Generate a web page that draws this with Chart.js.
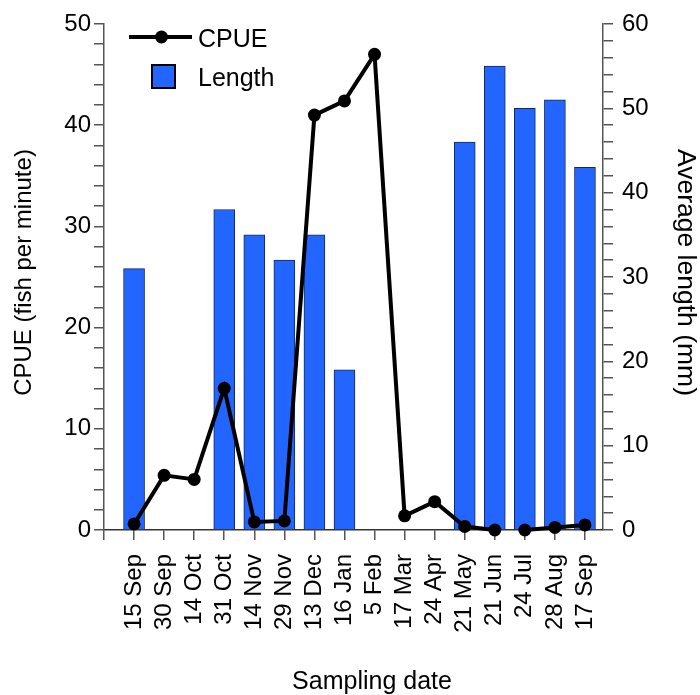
<!DOCTYPE html>
<html>
<head>
<meta charset="utf-8">
<script src="https://cdn.jsdelivr.net/npm/chart.js@4/dist/chart.umd.min.js"></script>
<style>
  html, body { margin: 0; padding: 0; background: #fff; }
  #wrap { width: 700px; height: 695px; }
</style>
</head>
<body>
<div id="wrap"><canvas id="c" width="700" height="695"></canvas></div>
<script>
// ---- Data ----
const dates = ['15 Sep', '30 Sep', '14 Oct', '31 Oct', '14 Nov', '29 Nov', '13 Dec', '16 Jan',
               '5 Feb', '17 Mar', '24 Apr', '21 May', '21 Jun', '24 Jul', '28 Aug', '17 Sep'];
const cpue = [0.6, 5.4, 5.0, 14.0, 0.8, 0.9, 41.0, 42.4, 47.0, 1.4, 2.8, 0.35, 0.0, 0.0, 0.25, 0.5];
const lengthMM = [31, null, null, 38, 35, 32, 35, 19, null, null, null, 46, 55, 50, 51, 43];
const cpueTicks = [0, 10, 20, 30, 40, 50];
const lengthTicks = [0, 10, 20, 30, 40, 50, 60];
const cpueGapAfter = '21 Jun'; // line is not drawn between 21 Jun and 24 Jul
const xTitle = 'Sampling date';
const yTitle = 'CPUE (fish per minute)';
const y1Title = 'Average length (mm)';

const FONT = "'Liberation Sans', Arial, Helvetica, sans-serif";
Chart.defaults.font.family = FONT;
Chart.defaults.color = '#000';

const lineData = dates.map((d, i) => ({ x: i, y: cpue[i] }));
const barData = dates.map((d, i) => ({ x: i, y: lengthMM[i] })).filter(p => p.y !== null);
const gapIndex = dates.indexOf(cpueGapAfter);

const annotPlugin = {
  id: 'legendAndTitles',
  afterDraw(chart) {
    const ctx = chart.ctx;
    const line = chart.data.datasets[0];
    const bar = chart.data.datasets[1];
    ctx.save();
    // legend: line sample
    ctx.strokeStyle = line.borderColor;
    ctx.lineWidth = line.borderWidth;
    ctx.beginPath();
    ctx.moveTo(129, 37);
    ctx.lineTo(192, 37);
    ctx.stroke();
    ctx.fillStyle = line.pointBackgroundColor;
    ctx.beginPath();
    ctx.arc(161.5, 37, line.pointRadius, 0, Math.PI * 2);
    ctx.fill();
    // legend: bar sample
    ctx.fillStyle = bar.backgroundColor;
    ctx.fillRect(152, 65, 23, 23);
    ctx.strokeStyle = '#000';
    ctx.lineWidth = 2;
    ctx.strokeRect(152, 65, 23, 23);
    ctx.fillStyle = '#000';
    ctx.font = '25px ' + FONT;
    ctx.textAlign = 'left';
    ctx.textBaseline = 'alphabetic';
    ctx.fillText(line.label, 198, 46.5);
    ctx.fillText(bar.label, 198, 86);

    // axis titles
    ctx.textAlign = 'center';
    ctx.textBaseline = 'middle';
    ctx.font = '25px ' + FONT;
    ctx.fillText(xTitle, 372, 682);

    ctx.save();
    ctx.translate(24, 272.5);
    ctx.rotate(-Math.PI / 2);
    ctx.font = '24px ' + FONT;
    ctx.fillText(yTitle, 0, 0);
    ctx.restore();

    ctx.save();
    ctx.translate(685.5, 272.5);
    ctx.rotate(Math.PI / 2);
    ctx.font = '26.5px ' + FONT;
    ctx.fillText(y1Title, 0, 0);
    ctx.restore();

    ctx.restore();
  }
};

new Chart(document.getElementById('c'), {
  type: 'bar',
  data: {
    datasets: [
      {
        type: 'line',
        label: 'CPUE',
        data: lineData,
        yAxisID: 'y',
        xAxisID: 'x',
        order: 0,
        borderColor: '#000',
        borderWidth: 4,
        pointRadius: 6.5,
        pointBackgroundColor: '#000',
        pointBorderWidth: 0,
        tension: 0,
        clip: false,
        segment: {
          borderColor: c => (c.p0DataIndex === gapIndex ? 'rgba(0,0,0,0)' : undefined)
        }
      },
      {
        type: 'bar',
        label: 'Length',
        data: barData,
        yAxisID: 'y1',
        xAxisID: 'x',
        order: 1,
        backgroundColor: '#2266FF',
        borderColor: '#14285e',
        borderWidth: 1,
        barThickness: 21
      }
    ]
  },
  options: {
    responsive: false,
    animation: false,
    layout: { padding: { top: 24, left: 0, right: 0, bottom: 0 } },
    plugins: {
      legend: { display: false },
      tooltip: { enabled: false }
    },
    scales: {
      x: {
        type: 'linear',
        position: 'bottom',
        offset: false,
        min: -1,
        max: 15.6,
        afterBuildTicks: s => { s.ticks = [-1].concat(dates.map((d, i) => i)).map(v => ({ value: v })); },
        afterFit: s => { s.height = 165; },
        grid: { offset: false, drawOnChartArea: false, drawTicks: true, tickLength: 10, color: '#555', lineWidth: 1.5 },
        border: { color: '#333', width: 1.5 },
        ticks: {
          autoSkip: false,
          minRotation: 90,
          maxRotation: 90,
          padding: 14,
          font: { size: 24 },
          callback: v => (v >= 0 && v < dates.length ? dates[v] : '')
        },
        title: { display: false }
      },
      y: {
        position: 'left',
        min: 0,
        max: 50,
        afterFit: s => { s.width = 104; },
        grid: { drawOnChartArea: false, drawTicks: true, tickLength: 10, color: '#555', lineWidth: 1.5 },
        border: { color: '#555', width: 1.5 },
        ticks: {
          stepSize: 2,
          autoSkip: false,
          padding: 3,
          font: { size: 24 },
          callback: v => (cpueTicks.includes(v) ? String(v) : '')
        },
        title: { display: false }
      },
      y1: {
        position: 'right',
        min: 0,
        max: 60,
        afterFit: s => { s.width = 97; },
        grid: { drawOnChartArea: false, drawTicks: true, tickLength: 10, color: '#555', lineWidth: 1.5 },
        border: { color: '#555', width: 1.5 },
        ticks: {
          stepSize: 2,
          autoSkip: false,
          padding: 9,
          font: { size: 24 },
          callback: v => (lengthTicks.includes(v) ? String(v) : '')
        },
        title: { display: false }
      }
    }
  },
  plugins: [annotPlugin]
});
</script>
</body>
</html>
